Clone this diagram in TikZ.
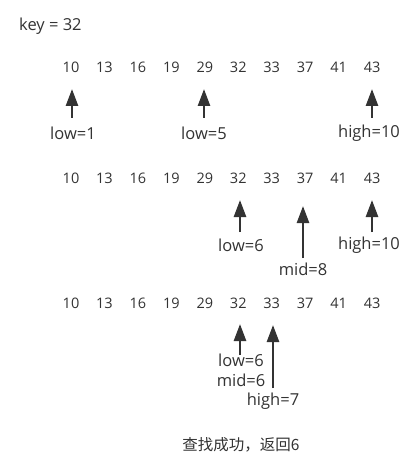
\documentclass[tikz,border=0pt]{standalone}
\usepackage{fontspec}
\setmainfont{Open Sans}
\newfontfamily\cjkfont{Noto Sans CJK SC}
\usetikzlibrary{arrows.meta}
\definecolor{ink}{HTML}{333333}
\tikzset{
  num/.style={text=ink, font=\fontsize{14.5}{16}\selectfont, inner sep=0pt, anchor=center},
  txt/.style={text=ink, font=\fontsize{16.5}{18}\selectfont, inner sep=0pt, anchor=center},
  ptr/.style={draw=ink, line width=2.6pt, -{Triangle[width=12pt,length=17pt]}},
}
\begin{document}
\begin{tikzpicture}[x=1pt,y=-1pt]
\useasboundingbox[fill=white] (0,0) rectangle (410,465);
\node[txt, anchor=west] (key) at (19,26) {key = 32};
% rows of numbers
\foreach \r/\y in {a/67, b/178, c/303}{
  \foreach \v [count=\i] in {10,13,16,19,29,32,33,37,41,43}{
    \node[num] (\r\i) at ({71+(\i-1)*33.45},\y) {\v};
  }
}
% row 1
\coordinate (a1s) at (72,118); \coordinate (a1t) at (72,89);
\coordinate (a5s) at (204,118); \coordinate (a5t) at (204,89);
\coordinate (a10s) at (372,118); \coordinate (a10t) at (372,89);
\draw[ptr] (a1s) -- (a1t);
\draw[ptr] (a5s) -- (a5t);
\draw[ptr] (a10s) -- (a10t);
\node[txt] (l1) at (73,133) {low=1};
\node[txt] (l5) at (204,133) {low=5};
\node[txt] (h10) at (369,133) {high=10};
% row 2
\coordinate (b6s) at (240,232); \coordinate (b6t) at (240,200);
\coordinate (b8s) at (303,258); \coordinate (b8t) at (303,206);
\coordinate (b10s) at (372,232); \coordinate (b10t) at (372,200);
\draw[ptr] (b6s) -- (b6t);
\draw[ptr] (b8s) -- (b8t);
\draw[ptr] (b10s) -- (b10t);
\node[txt] (l6) at (241,245) {low=6};
\node[txt] (m8) at (303,269) {mid=8};
\node[txt] (h10b) at (369,245) {high=10};
% row 3
\coordinate (c6s) at (240,355); \coordinate (c6t) at (240,324);
\coordinate (c7s) at (273,388); \coordinate (c7t) at (273,325);
\draw[ptr] (c6s) -- (c6t);
\draw[ptr] (c7s) -- (c7t);
\node[txt] (l6c) at (241,360) {low=6};
\node[txt] (m6c) at (241,380) {mid=6};
\node[txt] (h7c) at (273,401) {high=7};
\node[txt, font=\cjkfont\fontsize{15.5}{18}\selectfont] (res) at (241,445) {查找成功，返回6};
\end{tikzpicture}
\end{document}
